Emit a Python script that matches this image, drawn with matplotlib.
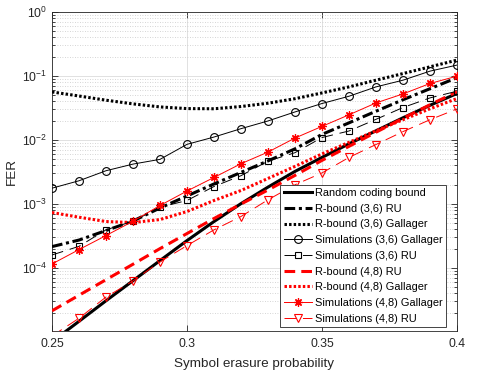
import numpy as np
import matplotlib
matplotlib.use("Agg")
import matplotlib.pyplot as plt
from matplotlib.ticker import LogLocator, FixedLocator, NullFormatter, LogFormatterMathtext

plt.rcParams['font.family'] = ['Liberation Sans', 'DejaVu Sans']
plt.rcParams['mathtext.fontset'] = 'custom'
plt.rcParams['mathtext.rm'] = 'Liberation Sans'
plt.rcParams['mathtext.it'] = 'Liberation Sans'

# ---- data ----
p = [0.25, 0.26, 0.27, 0.28, 0.29, 0.30, 0.31, 0.32,
     0.33, 0.34, 0.35, 0.36, 0.37, 0.38, 0.39, 0.40]

random_coding = [7.0e-6, 1.46e-5, 3.06e-5, 6.3e-5, 1.30e-4, 2.67e-4, 5.30e-4, 1.01e-3,
                 1.83e-3, 3.22e-3, 5.33e-3, 8.69e-3, 1.39e-2, 2.22e-2, 3.48e-2, 5.32e-2]
rb36_ru = [2.15e-4, 2.72e-4, 3.83e-4, 5.40e-4, 8.63e-4, 1.33e-3, 2.05e-3, 3.11e-3,
           4.70e-3, 7.26e-3, 1.22e-2, 1.85e-2, 2.81e-2, 4.25e-2, 6.32e-2, 9.40e-2]
rb36_gal = [5.63e-2, 4.86e-2, 4.18e-2, 3.66e-2, 3.28e-2, 3.09e-2, 3.07e-2, 3.33e-2,
            3.75e-2, 4.41e-2, 5.43e-2, 6.75e-2, 8.59e-2, 0.109, 0.139, 0.177]
sim36_gal = [1.76e-3, 2.30e-3, 3.30e-3, 4.19e-3, 4.97e-3, 8.53e-3, 1.11e-2, 1.50e-2,
             1.98e-2, 2.74e-2, 3.71e-2, 4.82e-2, 6.75e-2, 8.59e-2, 0.119, 0.148]
sim36_ru = [1.59e-4, 2.17e-4, 3.93e-4, 5.36e-4, 8.88e-4, 1.13e-3, 1.87e-3, 2.76e-3,
            4.67e-3, 6.32e-3, 1.09e-2, 1.38e-2, 2.10e-2, 3.21e-2, 4.54e-2, 5.78e-2]
rb48_ru = [2.13e-5, 3.73e-5, 6.53e-5, 1.14e-4, 2.00e-4, 3.44e-4, 5.91e-4, 9.96e-4,
           1.65e-3, 2.79e-3, 4.79e-3, 7.94e-3, 1.32e-2, 2.18e-2, 3.55e-2, 5.67e-2]
rb48_gal = [7.33e-4, 6.19e-4, 5.30e-4, 5.11e-4, 5.69e-4, 7.60e-4, 1.13e-3, 1.62e-3,
            2.50e-3, 3.86e-3, 6.05e-3, 9.17e-3, 1.39e-2, 2.07e-2, 3.07e-2, 4.44e-2]
sim48_gal = [1.15e-4, 1.93e-4, 3.20e-4, 5.36e-4, 9.44e-4, 1.59e-3, 2.59e-3, 4.25e-3,
             6.46e-3, 1.07e-2, 1.63e-2, 2.47e-2, 3.79e-2, 5.24e-2, 7.63e-2, 9.93e-2]
sim48_ru = [8.6e-6, 1.63e-5, 3.50e-5, 6.24e-5, 1.24e-4, 2.23e-4, 3.93e-4, 6.35e-4,
            1.16e-3, 1.99e-3, 3.05e-3, 5.33e-3, 8.48e-3, 1.35e-2, 2.07e-2, 3.05e-2]

labels = ['Random coding bound', 'R-bound (3,6) RU', 'R-bound (3,6) Gallager',
          'Simulations (3,6) Gallager', 'Simulations (3,6) RU', 'R-bound (4,8) RU',
          'R-bound (4,8) Gallager', 'Simulations (4,8) Gallager', 'Simulations (4,8) RU']
xticks = [0.25, 0.3, 0.35, 0.4]
xtick_labels = ['0.25', '0.3', '0.35', '0.4']

# ---- figure ----
fig = plt.figure(figsize=(4.91, 3.81), dpi=100)
ax = fig.add_axes([52/491, 1-331/381, 405/491, 319/381])

thick = 2.2
thin = 0.7
red = '#ff0000'
asterisk = (8, 2, 0)

ax.plot(p, random_coding, color='black', lw=thick, label=labels[0], zorder=5)
ax.plot(p, rb36_ru, color='black', lw=thick, ls=(0, (3.5, 1.2, 1.0, 1.2)), label=labels[1], zorder=5)
ax.plot(p, rb36_gal, color='black', lw=thick, ls=(0, (0.8, 0.7)), label=labels[2], zorder=5)
ax.plot(p, sim36_gal, color='black', lw=thin, marker='o', ms=5.6, mfc='none', mec='black',
        mew=0.8, label=labels[3], zorder=6)
ax.plot(p, sim36_ru, color='black', lw=thin, ls=(0, (12, 7)), marker='s', ms=4.4, mfc='none',
        mec='black', mew=0.8, label=labels[4], zorder=6)
ax.plot(p, rb48_ru, color=red, lw=thick, ls=(0, (3.5, 2.0)), label=labels[5], zorder=5)
ax.plot(p, rb48_gal, color=red, lw=thick, ls=(0, (0.8, 0.7)), label=labels[6], zorder=5)
ax.plot(p, sim48_gal, color=red, lw=thin, marker=asterisk, ms=6.0, mfc='none', mec=red,
        mew=0.9, label=labels[7], zorder=6)
ax.plot(p, sim48_ru, color=red, lw=thin, ls=(0, (12, 7)), marker='v', ms=5.4, mfc='none',
        mec=red, mew=0.8, label=labels[8], zorder=6)

ax.set_yscale('log')
ax.set_xlim(0.25, 0.4)
ax.set_ylim(1.03e-5, 1.0)
ax.xaxis.set_major_locator(FixedLocator(xticks))
ax.set_xticklabels(xtick_labels)
ax.yaxis.set_major_locator(LogLocator(base=10, numticks=10))
ax.yaxis.set_minor_locator(LogLocator(base=10, subs=np.arange(2, 10), numticks=10))
ax.yaxis.set_minor_formatter(NullFormatter())
ax.yaxis.set_major_formatter(LogFormatterMathtext())

ax.grid(True, which='major', color='#dcdcdc', lw=0.6, ls='-')
ax.grid(True, which='minor', axis='y', color='#c8c8c8', lw=0.6, ls=(0, (1, 2)))
ax.set_axisbelow(True)

for s in ax.spines.values():
    s.set_color('#262626')
    s.set_linewidth(0.6)
ax.tick_params(which='both', direction='in', top=True, right=True, colors='#262626',
               labelsize=8.8, width=0.6)
ax.tick_params(which='major', length=4)
ax.tick_params(which='minor', length=2)
ax.tick_params(axis='x', pad=5)

ax.set_xlabel('Symbol erasure probability', fontsize=9.7, color='#262626', labelpad=6)
ax.set_ylabel('FER', fontsize=9.7, color='#262626', labelpad=3)

leg = ax.legend(loc='lower right', fontsize=7.9, frameon=True, fancybox=False,
                edgecolor='#262626', framealpha=1, borderpad=0.3, labelspacing=0.52,
                handlelength=2.55, handletextpad=0.3, borderaxespad=0.0,
                bbox_to_anchor=(446/491, 1-327/381), bbox_transform=fig.transFigure,
                numpoints=1)
leg.get_frame().set_linewidth(0.6)
leg.set_zorder(10)

fig.savefig('out.png', dpi=100)
